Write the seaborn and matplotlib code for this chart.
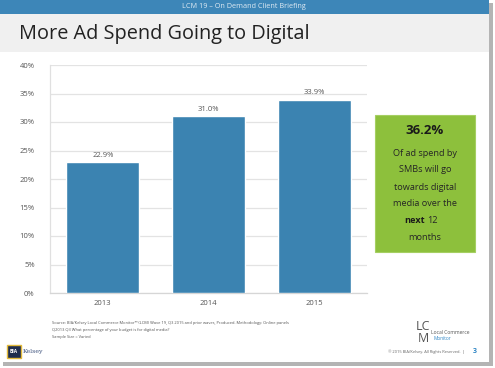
import matplotlib
matplotlib.use("Agg")
import matplotlib.pyplot as plt
from matplotlib.patches import Rectangle
from matplotlib.ticker import PercentFormatter
import seaborn as sns
import pandas as pd

# Data
years = ["2013", "2014", "2015"]
digital_share = [22.9, 31.0, 33.9]
y_ticks = [0, 5, 10, 15, 20, 25, 30, 35, 40]
callout_value = "36.2%"
callout_lines = ["Of ad spend by", "SMBs will go", "towards digital", "media over the"]

sns.set_theme(style="white")
plt.rcParams["font.family"] = ["Open Sans", "DejaVu Sans"]

W, H = 495, 368
fig = plt.figure(figsize=(W / 100, H / 100), dpi=100)
fig.patch.set_facecolor("white")


def fx(x):
    return x / W


def fy(y):
    return 1 - y / H


def rect(x0, y0, x1, y1, **kw):
    r = Rectangle((fx(x0), fy(y1)), fx(x1) - fx(x0), fy(y0) - fy(y1),
                  transform=fig.transFigure, **kw)
    fig.patches.append(r)
    return r


# Slide frame with drop shadow
rect(3, 3, 493, 366, facecolor="#b4b4b4", edgecolor="none", zorder=0)
rect(0, 0, 489, 362, facecolor="white", edgecolor="none", zorder=1)
# Header strip and title band
rect(0, 0, 489, 14, facecolor="#3d86b8", edgecolor="none", zorder=2)
rect(0, 14, 489, 52, facecolor="#f0f0f0", edgecolor="none", zorder=2)
fig.text(fx(244), fy(7), "LCM 19 \u2013 On Demand Client Briefing", color="#dfeaf3",
         fontsize=5.2, ha="center", va="center", zorder=3)
fig.text(fx(19), fy(34), "More Ad Spend Going to Digital", color="#222222",
         fontsize=14.3, ha="left", va="center", zorder=3)

# Bar chart
ax = fig.add_axes([fx(50), fy(293), fx(367) - fx(50), fy(65) - fy(293)])
ax.set_zorder(5)
ax.patch.set_alpha(0)
df = pd.DataFrame({"year": years, "share": digital_share})
sns.barplot(data=df, x="year", y="share", color="#3b83b1", saturation=1,
            width=0.69, ax=ax, zorder=3)
ax.set_ylim(0, 40)
ax.set_xlim(-0.5, 2.5)
ax.set_yticks(y_ticks)
ax.yaxis.set_major_formatter(PercentFormatter(decimals=0))
ax.grid(axis="y", color="#e3e3e3", linewidth=0.9, zorder=0)
ax.set_axisbelow(True)
for s in ["top", "right"]:
    ax.spines[s].set_visible(False)
ax.spines["left"].set_color("#e0e0e0")
ax.spines["bottom"].set_color("#d6d6d6")
ax.spines["left"].set_linewidth(0.9)
ax.spines["bottom"].set_linewidth(0.9)
ax.tick_params(axis="y", labelsize=5.5, labelcolor="#555555", length=3,
               color="#e0e0e0", pad=8)
ax.tick_params(axis="x", labelsize=5.5, labelcolor="#555555", length=0, pad=5)
ax.set_xlabel("")
ax.set_ylabel("")
for i, v in enumerate(digital_share):
    ax.text(i, v + 0.6, f"{v:.1f}%", ha="center", va="bottom",
            fontsize=5.5, color="#555555")

# Callout box
rect(375, 115, 475, 252, facecolor="#8dc03c", edgecolor="#a5cf62",
     linewidth=0.8, zorder=4)
fig.text(fx(425), fy(130), callout_value, ha="center", va="center",
         fontsize=9.5, fontweight="bold", color="#1a1a1a", zorder=6)
line_y = [153, 170, 187, 204]
for t, yy in zip(callout_lines, line_y):
    fig.text(fx(425), fy(yy), t, ha="center", va="center", fontsize=6.6,
             color="#262626", zorder=6)
fig.text(fx(425), fy(221), "next", ha="right", va="center", fontsize=6.6,
         fontweight="bold", color="#1a1a1a", zorder=6)
fig.text(fx(427), fy(221), "12", ha="left", va="center", fontsize=6.6,
         color="#262626", zorder=6)
fig.text(fx(425), fy(238), "months", ha="center", va="center", fontsize=6.6,
         color="#262626", zorder=6)

# Footer: source notes
src = ["Source: BIA/Kelsey Local Commerce Monitor\u2122 (LCM) Wave 19, Q3 2015 and prior waves, Produced. Methodology: Online panels",
       "Q2013 Q3 What percentage of your budget is for digital media?",
       "Sample Size = Varied"]
for k, t in enumerate(src):
    fig.text(fx(52), fy(323 + k * 7), t, fontsize=2.9, color="#555555",
             ha="left", va="center", zorder=6)

# BIA Kelsey logo
rect(7, 345, 21, 358, facecolor="#1f2d4d", edgecolor="#e2b93b", linewidth=1.0, zorder=6)
fig.text(fx(14), fy(351.5), "BIA", fontsize=3.5, color="white", ha="center",
         va="center", fontweight="bold", zorder=7)
fig.text(fx(23), fy(351), "Kelsey", fontsize=4.5, color="#3a4f7a", ha="left",
         va="center", zorder=7, family="DejaVu Serif")

# LCM logo
fig.text(fx(416), fy(327), "LC", fontsize=9, color="#555555", ha="left",
         va="center", zorder=7)
fig.text(fx(418), fy(339), "M", fontsize=9, color="#555555", ha="left",
         va="center", zorder=7)
fig.text(fx(431), fy(333), "Local Commerce", fontsize=3.6, color="#555555",
         ha="left", va="center", zorder=7)
fig.text(fx(433), fy(339), "Monitor", fontsize=3.4, color="#2f86c5",
         ha="left", va="center", zorder=7)
fig.text(fx(465), fy(351.5), "\u00a9 2015 BIA/Kelsey. All Rights Reserved.  |", fontsize=2.9,
         color="#666666", ha="right", va="center", zorder=7)
fig.text(fx(475), fy(351.5), "3", fontsize=5, color="#2f86c5",
         ha="center", va="center", fontweight="bold", zorder=7)

fig.savefig("out.png", dpi=100)
